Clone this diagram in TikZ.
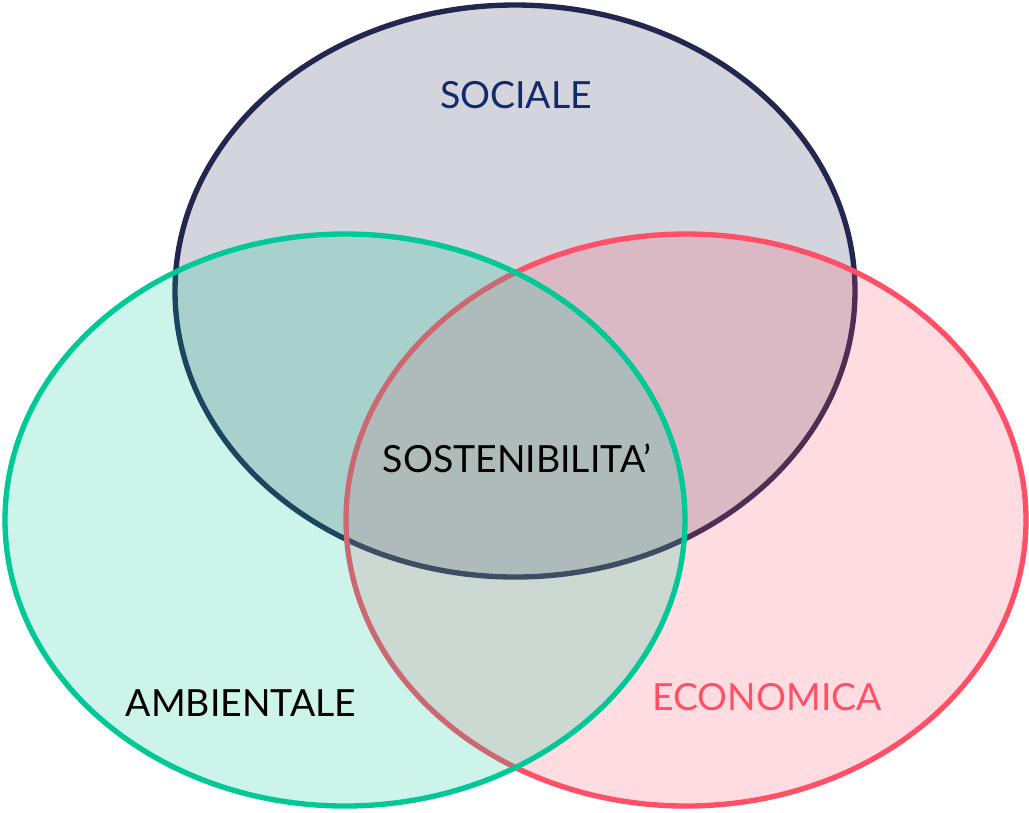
\documentclass[tikz,border=0pt]{standalone}
\usepackage{fontspec}
\setmainfont{Lato}
\usepackage{tikz}
\usetikzlibrary{calc}

\definecolor{navy}{HTML}{23264F}
\definecolor{navytext}{HTML}{102A6B}
\definecolor{verde}{HTML}{00C896}
\definecolor{rosso}{HTML}{FF5068}

\tikzset{
    cerchio/.style={line width=3.8pt, fill opacity=0.2},
    etichetta/.style={font=\fontsize{26.6}{32}\selectfont, inner sep=0pt}
}

\begin{document}
\begin{tikzpicture}[x=0.025cm, y=-0.025cm]
            \useasboundingbox (0, 0) rectangle (1029, 812);

            % tre insiemi
            \draw[cerchio, draw=navy, fill=navy] (515, 291) ellipse [x radius=340, y radius=286];
            \draw[cerchio, draw=rosso, fill=rosso] (686, 520) ellipse [x radius=340, y radius=286];
            \draw[cerchio, draw=verde, fill=verde] (345, 520) ellipse [x radius=340, y radius=286];

            \node[etichetta, text=navytext] (sociale) at (516, 95) {SOCIALE};
            \node[etichetta, text=black] (sost) at (517, 458) {SOSTENIBILITA'};
            \node[etichetta, text=black] (amb) at (241, 703) {AMBIENTALE};
            \node[etichetta, text=rosso] (eco) at (767, 697) {ECONOMICA};
        \end{tikzpicture}
\end{document}
